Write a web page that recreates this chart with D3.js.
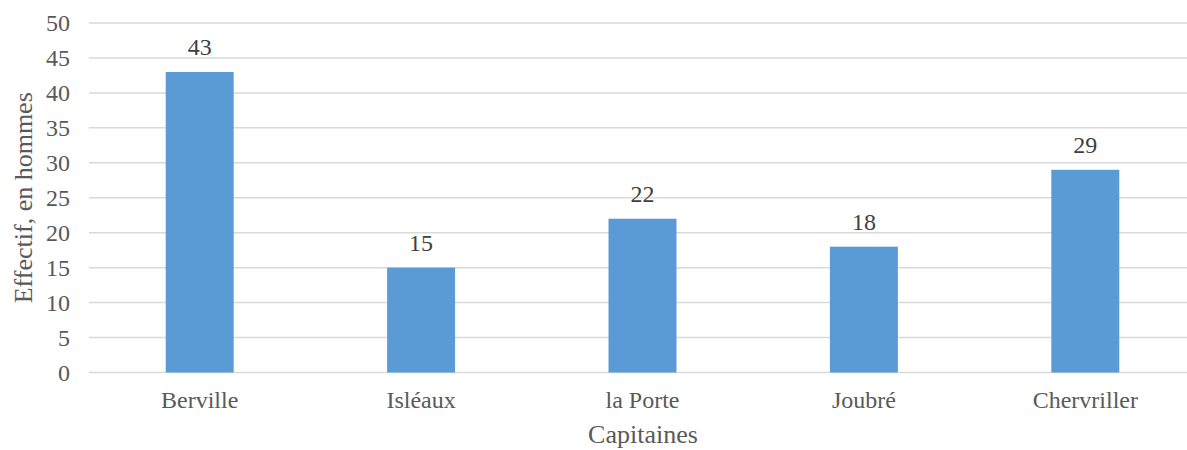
<!DOCTYPE html>
<html>
<head>
<meta charset="utf-8">
<script src="https://cdn.jsdelivr.net/npm/d3@7"></script>
<style>
  body { margin: 0; background: #fff; }
  svg text { font-family: 'Liberation Serif', 'Times New Roman', 'DejaVu Serif', serif; }
</style>
</head>
<body>
<svg></svg>
<script>
// data
var capitaines = ['Berville', 'Isléaux', 'la Porte', 'Joubré', 'Chervriller'];
var effectifs = [43, 15, 22, 18, 29];
var yTicks = [0, 5, 10, 15, 20, 25, 30, 35, 40, 45, 50];

let width = 1187, height = 450;
let serif = "'Liberation Serif', 'Times New Roman', serif";
let svg = d3.select('svg').attr('width', width).attr('height', height);

let plotLeft = 89, plotRight = 1196, plotTop = 23, plotBottom = 372.5;

let x = d3.scaleBand().domain(capitaines).range([ plotLeft, plotRight ]).paddingInner(0.693).paddingOuter(0.3465);
let y = d3.scaleLinear().domain([ 0, 50 ]).range([ plotBottom, plotTop ]);

// gridlines
svg
	.selectAll('.grid')
	.data(yTicks)
	.enter()
	.append('line')
	.attr('class', 'grid')
	.attr('x1', plotLeft)
	.attr('x2', width)
	.attr('y1', (d) => y(d))
	.attr('y2', (d) => y(d))
	.attr('stroke', '#d9d9d9')
	.attr('stroke-width', 1.5);

// y axis labels
let yAxis = svg
	.append('g')
	.attr('transform', 'translate(' + (plotLeft - 19) + ',0)')
	.call(d3.axisLeft(y).tickValues(yTicks).tickSize(0).tickPadding(0));
yAxis.attr('font-family', serif);
yAxis.select('.domain').remove();
yAxis.selectAll('text').attr('font-size', 24).attr('fill', '#595959');

// bars
svg
	.selectAll('.bar')
	.data(effectifs)
	.enter()
	.append('rect')
	.attr('class', 'bar')
	.attr('x', (d, i) => x(capitaines[i]))
	.attr('y', (d) => y(d))
	.attr('width', x.bandwidth())
	.attr('height', (d) => y(0) - y(d))
	.attr('fill', '#5b9bd5');

// value labels
svg
	.selectAll('.val')
	.data(effectifs)
	.enter()
	.append('text')
	.attr('class', 'val')
	.attr('x', (d, i) => x(capitaines[i]) + x.bandwidth() / 2)
	.attr('y', (d) => y(d) - 17)
	.attr('text-anchor', 'middle')
	.attr('font-family', serif)
	.attr('font-size', 24)
	.attr('fill', '#404040')
	.text((d) => d);

// x axis labels
let xAxis = svg
	.append('g')
	.attr('transform', 'translate(0,' + (plotBottom + 18) + ')')
	.call(d3.axisBottom(x).tickSize(0).tickPadding(0));
xAxis.attr('font-family', serif);
xAxis.select('.domain').remove();
xAxis.selectAll('text').attr('font-size', 24).attr('fill', '#595959');

// axis titles
svg
	.append('text')
	.attr('x', 643)
	.attr('y', 443)
	.attr('text-anchor', 'middle')
	.attr('font-family', serif)
	.attr('font-size', 26)
	.attr('fill', '#595959')
	.text('Capitaines');

svg
	.append('text')
	.attr('transform', 'translate(32,' + (plotTop + plotBottom) / 2 + ') rotate(-90)')
	.attr('text-anchor', 'middle')
	.attr('font-family', serif)
	.attr('font-size', 26)
	.attr('fill', '#595959')
	.text('Effectif, en hommes');
</script>
</body>
</html>
